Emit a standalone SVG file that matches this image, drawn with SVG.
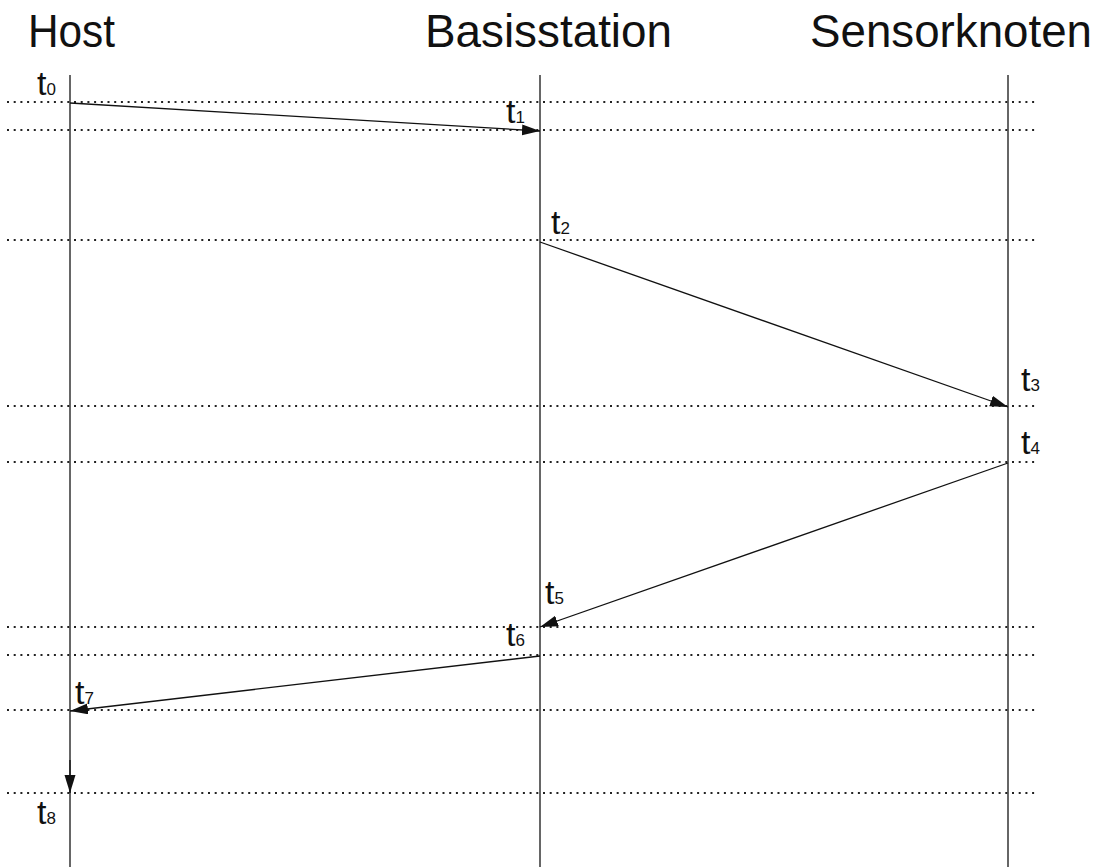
<svg xmlns="http://www.w3.org/2000/svg" width="1102" height="867" viewBox="0 0 1102 867">
  <style>
    .title { font-family: "Liberation Sans", Arial, sans-serif; font-size: 46px; fill: #111; }
    .lbl { font-family: "Liberation Sans", Arial, sans-serif; font-size: 34px; fill: #111; }
    .sub { font-size: 17px; }
    .life { stroke: #333; stroke-width: 1.5; fill: none; }
    .dot { stroke: #222; stroke-width: 2; stroke-dasharray: 2 4.7; fill: none; }
    .msg { stroke: #111; stroke-width: 1.3; fill: none; marker-end: url(#head); }
  </style>
  <defs>
    <marker id="head" markerUnits="userSpaceOnUse" markerWidth="20" markerHeight="14" refX="18" refY="5.5" orient="auto">
      <path d="M0,0 L18,5.5 L0,11 Z" fill="#111"/>
    </marker>
  </defs>

  <rect width="1102" height="867" fill="#fff"/>

  <!-- participants with lifelines -->
  <g id="host">
    <text class="title" x="28" y="47" textLength="87" lengthAdjust="spacingAndGlyphs">Host</text>
    <line class="life" x1="70" y1="75" x2="70" y2="867"/>
  </g>
  <g id="basisstation">
    <text class="title" x="425" y="47" textLength="247" lengthAdjust="spacingAndGlyphs">Basisstation</text>
    <line class="life" x1="540" y1="75" x2="540" y2="867"/>
  </g>
  <g id="sensorknoten">
    <text class="title" x="810" y="47" textLength="282" lengthAdjust="spacingAndGlyphs">Sensorknoten</text>
    <line class="life" x1="1008" y1="75" x2="1008" y2="867"/>
  </g>

  <!-- time marks -->
  <g id="timelines">
    <line class="dot" x1="7" y1="102" x2="1035" y2="102"/>
    <line class="dot" x1="7" y1="130" x2="1035" y2="130"/>
    <line class="dot" x1="7" y1="240" x2="1035" y2="240"/>
    <line class="dot" x1="7" y1="406" x2="1035" y2="406"/>
    <line class="dot" x1="7" y1="462" x2="1035" y2="462"/>
    <line class="dot" x1="7" y1="627" x2="1035" y2="627"/>
    <line class="dot" x1="7" y1="655" x2="1035" y2="655"/>
    <line class="dot" x1="7" y1="710" x2="1035" y2="710"/>
    <line class="dot" x1="7" y1="793" x2="1035" y2="793"/>
  </g>

  <g id="labels">
    <text class="lbl" x="37" y="95">t<tspan class="sub">0</tspan></text>
    <text class="lbl" x="506" y="123">t<tspan class="sub">1</tspan></text>
    <text class="lbl" x="551" y="234">t<tspan class="sub">2</tspan></text>
    <text class="lbl" x="1021" y="391">t<tspan class="sub">3</tspan></text>
    <text class="lbl" x="1021" y="454">t<tspan class="sub">4</tspan></text>
    <text class="lbl" x="545" y="604">t<tspan class="sub">5</tspan></text>
    <text class="lbl" x="506" y="646">t<tspan class="sub">6</tspan></text>
    <text class="lbl" x="75" y="704">t<tspan class="sub">7</tspan></text>
    <text class="lbl" x="37" y="824">t<tspan class="sub">8</tspan></text>
  </g>

  <!-- messages -->
  <g id="connectors">
    <line class="msg" x1="70" y1="103" x2="540" y2="131"/>
    <line class="msg" x1="540" y1="242" x2="1008" y2="407"/>
    <line class="msg" x1="1008" y1="463" x2="540" y2="627"/>
    <line class="msg" x1="540" y1="656" x2="70" y2="711"/>
    <line class="msg" x1="70" y1="760" x2="70" y2="793"/>
  </g>
</svg>
